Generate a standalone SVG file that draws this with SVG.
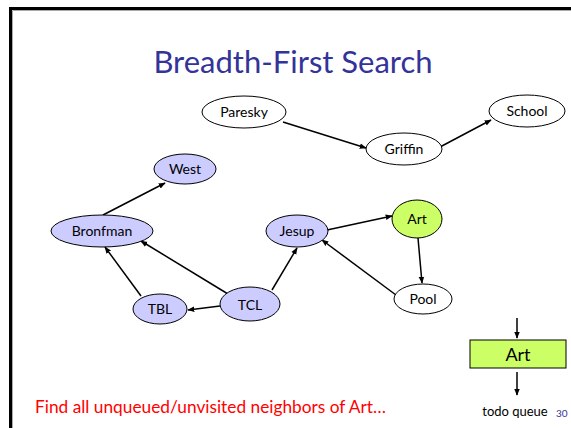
<svg xmlns="http://www.w3.org/2000/svg" width="571" height="428" viewBox="0 0 571 428">
  <style>
    .node ellipse { stroke: #000; stroke-width: 1; }
    .seen { fill: #ccccff; }
    .fresh { fill: #ffffff; }
    .cur { fill: #ccff66; }
    .lbl { font-family: Lato, "Open Sans", sans-serif; font-size: 14px; fill: #000; text-anchor: middle; }
    .edge { stroke: #000; stroke-width: 1.5; fill: none; marker-end: url(#arrow); }
  </style>
  <defs>
    <marker id="arrow" viewBox="0 0 10 10" refX="9" refY="5" markerWidth="7" markerHeight="7" markerUnits="userSpaceOnUse" orient="auto">
      <path d="M0,1 L10,5 L0,9 z" fill="#000"/>
    </marker>
  </defs>

  <rect width="571" height="428" fill="#fff"/>
  <!-- slide frame -->
  <path d="M12.5,428 V10.5 H571" stroke="#aaa" stroke-width="1" fill="none"/>
  <path d="M10.5,428 V8.5 H571" stroke="#000" stroke-width="3" fill="none"/>

  <text x="293" y="73" font-family="Lato, 'Open Sans', sans-serif" font-size="31" fill="#333399" text-anchor="middle">Breadth-First Search</text>

  <g id="connectors">
    <line class="edge" x1="283" y1="122" x2="366" y2="148"/>
    <line class="edge" x1="440" y1="147" x2="491" y2="120"/>
    <line class="edge" x1="103" y1="215" x2="165" y2="183"/>
    <line class="edge" x1="141" y1="296" x2="105" y2="247"/>
    <line class="edge" x1="228" y1="294" x2="141" y2="241"/>
    <line class="edge" x1="220" y1="306" x2="188" y2="310"/>
    <line class="edge" x1="272" y1="290" x2="297" y2="248"/>
    <line class="edge" x1="327" y1="230" x2="392" y2="216"/>
    <line class="edge" x1="418" y1="238" x2="422" y2="283"/>
    <line class="edge" x1="396" y1="295" x2="322" y2="240"/>
    <line class="edge" x1="517" y1="318" x2="517" y2="338"/>
    <line class="edge" x1="517" y1="372" x2="517" y2="395"/>
  </g>

  <g id="paresky" class="node">
    <ellipse class="fresh" cx="244" cy="112" rx="42" ry="16"/>
    <text class="lbl" x="244" y="117">Paresky</text>
  </g>
  <g id="griffin" class="node">
    <ellipse class="fresh" cx="404" cy="149" rx="38" ry="16"/>
    <text class="lbl" x="404" y="154">Griffin</text>
  </g>
  <g id="school" class="node">
    <ellipse class="fresh" cx="527" cy="111" rx="38" ry="16"/>
    <text class="lbl" x="527" y="116">School</text>
  </g>
  <g id="west" class="node">
    <ellipse class="seen" cx="185" cy="169" rx="31" ry="15"/>
    <text class="lbl" x="185" y="174">West</text>
  </g>
  <g id="bronfman" class="node">
    <ellipse class="seen" cx="102" cy="231" rx="51" ry="16"/>
    <text class="lbl" x="102" y="236">Bronfman</text>
  </g>
  <g id="jesup" class="node">
    <ellipse class="seen" cx="297" cy="231" rx="31" ry="16"/>
    <text class="lbl" x="297" y="236">Jesup</text>
  </g>
  <g id="art" class="node">
    <ellipse class="cur" cx="417" cy="219" rx="25" ry="19"/>
    <text class="lbl" x="417" y="224">Art</text>
  </g>
  <g id="pool" class="node">
    <ellipse class="fresh" cx="423" cy="299" rx="29" ry="15"/>
    <text class="lbl" x="423" y="304">Pool</text>
  </g>
  <g id="tbl" class="node">
    <ellipse class="seen" cx="160" cy="309" rx="27" ry="15"/>
    <text class="lbl" x="160" y="314">TBL</text>
  </g>
  <g id="tcl" class="node">
    <ellipse class="seen" cx="250" cy="304" rx="30" ry="17"/>
    <text class="lbl" x="250" y="310">TCL</text>
  </g>

  <g id="queue">
    <rect x="470" y="340" width="96" height="28" fill="#ccff66" stroke="#000" stroke-width="1"/>
    <text x="518" y="361" font-family="Lato, 'Open Sans', sans-serif" font-size="18" fill="#000" text-anchor="middle">Art</text>
    <text x="515" y="416" font-family="Lato, 'Open Sans', sans-serif" font-size="13" fill="#000" text-anchor="middle">todo queue</text>
    <text x="556" y="417" font-family="Lato, 'Open Sans', sans-serif" font-size="10" fill="#333399">30</text>
  </g>

  <text x="35" y="413" font-family="Lato, 'Open Sans', sans-serif" font-size="17.3" fill="#ff0000">Find all unqueued/unvisited neighbors of Art…</text>
</svg>
